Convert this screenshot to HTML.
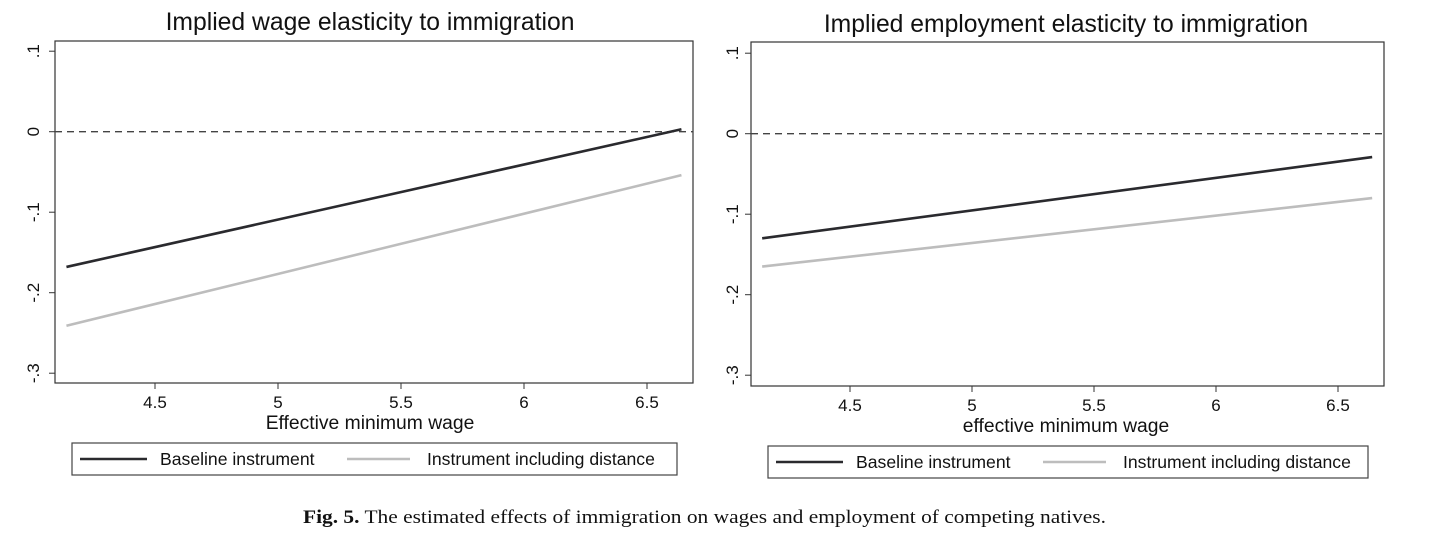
<!DOCTYPE html>
<html><head><meta charset="utf-8"><style>
body{margin:0;background:#fff;width:1438px;height:540px;overflow:hidden}
svg{display:block}
text{font-family:"Liberation Sans",Arial,sans-serif;fill:#111}
</style></head><body>
<svg id="fig" width="1438" height="540" viewBox="0 0 1438 540" xmlns="http://www.w3.org/2000/svg">
<text x="303" y="523" textLength="803" lengthAdjust="spacingAndGlyphs" style="font-family:'Liberation Serif',serif;font-size:19px"><tspan font-weight="bold">Fig. 5.</tspan>  The estimated effects of immigration on wages and employment of competing natives.</text>
</svg>
<script>
const xTicks=[4.5,5,5.5,6,6.5];
const xTickLabels=["4.5","5","5.5","6","6.5"];
const yTicks=[0.1,0,-0.1,-0.2,-0.3];
const yTickLabels=[".1","0","-.1","-.2","-.3"];
const xRange=[4.14,6.64];
const wageBaseline=[-0.168,0.003];
const wageDistance=[-0.241,-0.054];
const empBaseline=[-0.130,-0.029];
const empDistance=[-0.165,-0.080];
const titles=["Implied wage elasticity to immigration","Implied employment elasticity to immigration"];
const xTitles=["Effective minimum wage","effective minimum wage"];
const legendLabels=["Baseline instrument","Instrument including distance"];

const NS="http://www.w3.org/2000/svg";
const svg=document.getElementById('fig');
function mk(tag,attrs,parent){const e=document.createElementNS(NS,tag);for(const k in attrs)e.setAttribute(k,attrs[k]);(parent||svg).appendChild(e);return e;}

const panels=[
 {L:55,R:693,T:41,B:383,x45:155,x65:647,y0:131.7,ylab:33,title:[370,30],xt:[370,428],leg:[72,443,605,32],base:wageBaseline,dist:wageDistance,name:'wage'},
 {L:751,R:1384,T:42,B:386,x45:850,x65:1338,y0:133.7,ylab:732,title:[1066,32],xt:[1066,431],leg:[768,446,600,32],base:empBaseline,dist:empDistance,name:'employment'}
];
panels.forEach((p,i)=>{
 const g=mk('g',{});
 
 
 const sx=v=>p.x45+(v-4.5)*(p.x65-p.x45)/2;
 const sy=v=>p.y0-v*805;
 const t=mk('text',{x:p.title[0],y:p.title[1],'text-anchor':'middle','font-size':'24.7'},g);t.textContent=titles[i];
 
 
 const f=mk('rect',{x:p.L,y:p.T,width:p.R-p.L,height:p.B-p.T,fill:'none',stroke:'#333','stroke-width':1.2},g);
 
 
 yTicks.forEach((v,j)=>{
  const y=sy(v);
  mk('line',{x1:p.L-6,x2:p.L,y1:y,y2:y,stroke:'#333'},g);
  const l=mk('text',{x:p.ylab,y:y,'text-anchor':'middle','font-size':'17',transform:`rotate(-90 ${p.ylab} ${y})`,dy:'0.35em'},g);l.textContent=yTickLabels[j];
  
  
 });
 xTicks.forEach((v,j)=>{
  const x=sx(v);
  mk('line',{x1:x,x2:x,y1:p.B,y2:p.B+6,stroke:'#333'},g);
  const l=mk('text',{x:x,y:p.B+25,'text-anchor':'middle','font-size':'17'},g);l.textContent=xTickLabels[j];
  
  
 });
 const xt=mk('text',{x:p.xt[0],y:p.xt[1]+1,'text-anchor':'middle','font-size':'19.3'},g);xt.textContent=xTitles[i];
 
 
 const z=mk('line',{x1:p.L,x2:p.R,y1:sy(0),y2:sy(0),stroke:'#444','stroke-width':1.3,'stroke-dasharray':'7,5'},g);
 
 
 const d=mk('line',{x1:sx(xRange[0]),x2:sx(xRange[1]),y1:sy(p.dist[0]),y2:sy(p.dist[1]),stroke:'#bdbdbd','stroke-width':2.6},g);
 
 
 const b=mk('line',{x1:sx(xRange[0]),x2:sx(xRange[1]),y1:sy(p.base[0]),y2:sy(p.base[1]),stroke:'#2a2a2e','stroke-width':2.6},g);
 
 
 const [lx,ly,lw,lh]=p.leg;
 const lg=mk('g',{},g);
 
 
 mk('rect',{x:lx,y:ly,width:lw,height:lh,fill:'none',stroke:'#444','stroke-width':1.2},lg);
 mk('line',{x1:lx+8,x2:lx+75,y1:ly+lh/2,y2:ly+lh/2,stroke:'#2a2a2e','stroke-width':2.6},lg);
 const t1=mk('text',{x:lx+88,y:ly+lh/2+6,'font-size':'17.6'},lg);t1.textContent=legendLabels[0];
 
 
 mk('line',{x1:lx+275,x2:lx+338,y1:ly+lh/2,y2:ly+lh/2,stroke:'#bdbdbd','stroke-width':2.6},lg);
 const t2=mk('text',{x:lx+355,y:ly+lh/2+6,'font-size':'17.6'},lg);t2.textContent=legendLabels[1];
 
 
});
</script>
</body></html>
